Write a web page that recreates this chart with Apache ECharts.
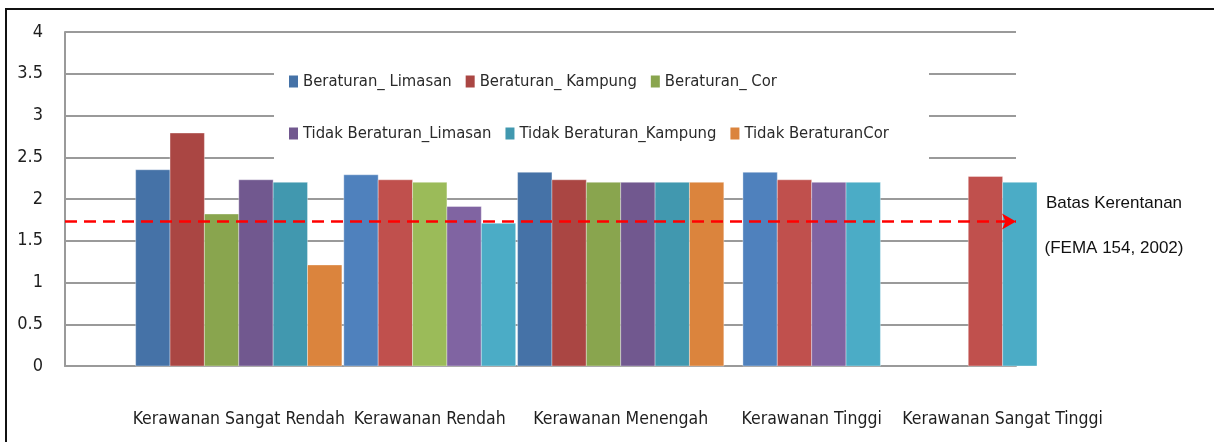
<!DOCTYPE html>
<html>
<head>
<meta charset="utf-8">
<title>Kerentanan</title>
<script src="https://cdn.jsdelivr.net/npm/echarts@6/dist/echarts.min.js"></script>
<style>
  html, body { margin: 0; padding: 0; background: #fff; }
  #chart { width: 1214px; height: 442px; }
</style>
</head>
<body>
<div id="chart"></div>
<script>
// data
const categories = ['Kerawanan Sangat Rendah', 'Kerawanan Rendah', 'Kerawanan Menengah', 'Kerawanan Tinggi', 'Kerawanan Sangat Tinggi'];
const seriesNames = ['Beraturan_ Limasan', 'Beraturan_ Kampung', 'Beraturan_ Cor', 'Tidak Beraturan_Limasan', 'Tidak Beraturan_Kampung', 'Tidak BeraturanCor'];
const beraturanLimasan = [2.35, 2.29, 2.32, 2.32, null];
const beraturanKampung = [2.79, 2.23, 2.23, 2.23, 2.27];
const beraturanCor = [1.82, 2.20, 2.20, null, null];
const tidakBeraturanLimasan = [2.23, 1.91, 2.20, 2.20, null];
const tidakBeraturanKampung = [2.20, 1.71, 2.20, 2.20, 2.20];
const tidakBeraturanCor = [1.21, null, 2.20, null, null];
const batasKerentanan = 1.73;
const yTicks = [0, 0.5, 1, 1.5, 2, 2.5, 3, 3.5, 4];

const seriesValues = [beraturanLimasan, beraturanKampung, beraturanCor,
  tidakBeraturanLimasan, tidakBeraturanKampung, tidakBeraturanCor];

// colours (dark / light shades, the picture alternates them per group)
const darkColors = ['#4572A7', '#AA4643', '#89A54E', '#71588F', '#4198AF', '#DB843D'];
const lightColors = ['#4F81BD', '#C0504D', '#9BBB59', '#8064A2', '#4BACC6', '#F79646'];
const groupShade = ['dark', 'light', 'dark', 'light', 'light'];

const FONT = "'DejaVu Sans Condensed', 'Liberation Sans Narrow', 'Roboto Condensed', 'Noto Sans', sans-serif";

const chart = echarts.init(document.getElementById('chart'));

// bars of one category are packed side by side, skipping empty series
function makeRenderer(seriesIdx) {
  return function (params, api) {
    const cat = api.value(0);
    const val = api.value(1);
    const present = [];
    seriesValues.forEach((arr, k) => { if (arr[cat] != null) present.push(k); });
    const n = present.length;
    const rank = present.indexOf(seriesIdx);
    const base = api.coord([cat, 0]);
    const top = api.coord([cat, val]);
    const w = api.size([1, 0])[0] * 0.18;
    const x = base[0] - n * w / 2 + rank * w;
    const palette = groupShade[cat] === 'dark' ? darkColors : lightColors;
    return {
      type: 'rect',
      shape: { x: x, y: top[1], width: w, height: base[1] - top[1] },
      style: { fill: palette[seriesIdx], stroke: 'rgba(255,255,255,0.35)', lineWidth: 1 }
    };
  };
}

const barSeries = seriesValues.map((arr, k) => ({
  name: seriesNames[k],
  type: 'custom',
  renderItem: makeRenderer(k),
  itemStyle: { color: darkColors[k] },
  encode: { x: 0, y: 1 },
  clip: false,
  z: 2,
  data: arr.map((v, i) => (v == null ? null : [i, v])).filter(d => d !== null)
}));

const legendText = { fontFamily: FONT, fontSize: 16.5, color: '#2a2a2a', width: 200, overflow: 'truncate' };

const option = {
  animation: false,
  grid: { left: 65, right: 198, top: 32, bottom: 76 },
  legend: [
    {
      data: seriesNames.slice(0, 3),
      left: 284, top: 68,
      itemWidth: 9, itemHeight: 12, itemGap: 14,
      icon: 'rect',
      textStyle: legendText,
      z: 5
    },
    {
      data: seriesNames.slice(3),
      left: 284, top: 120,
      itemWidth: 9, itemHeight: 12, itemGap: 14,
      icon: 'rect',
      textStyle: legendText,
      z: 5
    }
  ],
  xAxis: {
    type: 'value',
    min: -0.91,
    max: 4.07,
    axisLine: { show: true, onZero: false, lineStyle: { color: '#9a9a9a', width: 2 } },
    axisTick: { show: false },
    splitLine: { show: false },
    axisLabel: {
      customValues: categories.map((c, i) => i),
      formatter: v => categories[Math.round(v)],
      hideOverlap: false,
      showMinLabel: true,
      showMaxLabel: true,
      margin: 44,
      fontFamily: FONT,
      fontSize: 17.5,
      color: '#1e1e1e'
    }
  },
  yAxis: {
    type: 'value',
    min: 0,
    max: 4,
    interval: 0.5,
    axisLine: { show: true, onZero: false, lineStyle: { color: '#9a9a9a', width: 2 } },
    axisTick: { show: false },
    splitLine: { show: true, lineStyle: { color: '#9a9a9a', width: 2 } },
    axisLabel: {
      customValues: yTicks,
      margin: 22,
      fontFamily: FONT,
      fontSize: 18,
      color: '#1e1e1e'
    }
  },
  graphic: [
    // white box behind the legend, hides the gridlines there
    { type: 'rect', z: 1, shape: { x: 274, y: 42, width: 655, height: 120 }, style: { fill: '#fff' } },
    { type: 'text', z: 5, x: 1114, y: 203, style: { text: 'Batas Kerentanan', font: "17px 'Liberation Sans', Arial, sans-serif", fill: '#111', align: 'center', verticalAlign: 'middle' } },
    { type: 'text', z: 5, x: 1114, y: 248, style: { text: '(FEMA 154, 2002)', font: "17px 'Liberation Sans', Arial, sans-serif", fill: '#111', align: 'center', verticalAlign: 'middle' } },
    // frame around the figure
    { type: 'rect', z: 10, shape: { x: 6, y: 9, width: 1240, height: 460 }, style: { fill: 'none', stroke: '#111', lineWidth: 2 } }
  ],
  series: barSeries.concat([
    {
      name: 'Batas Kerentanan',
      type: 'line',
      data: [],
      z: 4,
      markLine: {
        silent: true,
        symbol: ['none', 'arrow'],
        symbolSize: [12, 14],
        label: { show: false },
        lineStyle: { color: '#ff0000', type: [12, 7], width: 2.5 },
        data: [{ yAxis: batasKerentanan }]
      }
    }
  ])
};

chart.setOption(option);

window.addEventListener('resize', () => {
  chart.resize();
});
</script>
</body>
</html>
